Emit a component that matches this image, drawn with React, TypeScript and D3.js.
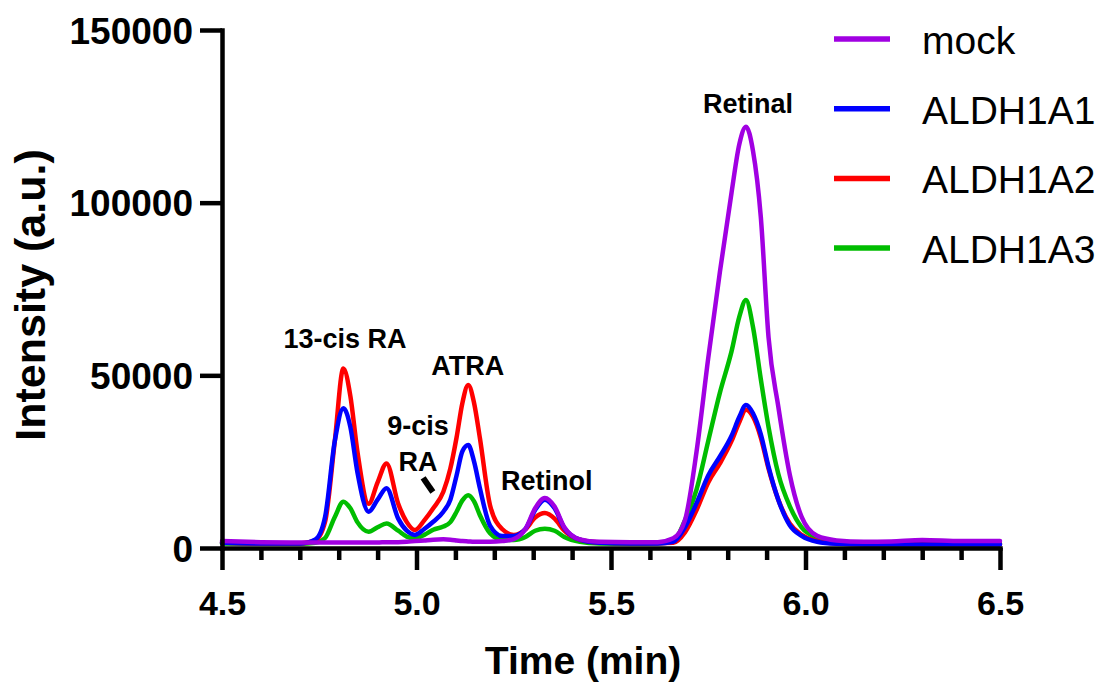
import { useEffect, useRef } from "react";
import * as d3 from "d3";

// retention time (min)
const time = [
  4.5, 4.6, 4.7, 4.74, 4.765, 4.79, 4.812, 4.83, 4.848, 4.877, 4.9, 4.923, 4.953, 4.975, 4.996,
  5.02, 5.043, 5.069, 5.087, 5.103, 5.118, 5.133, 5.148, 5.163, 5.189, 5.22, 5.25, 5.28, 5.305,
  5.33, 5.355, 5.38, 5.42, 5.47, 5.55, 5.62, 5.66, 5.69, 5.72, 5.75, 5.78, 5.81, 5.83, 5.847,
  5.865, 5.885, 5.905, 5.93, 5.96, 5.99, 6.03, 6.08, 6.15, 6.22, 6.3, 6.4, 6.5,
];

const mock = [
  2000, 1700, 1600, 1600, 1600, 1600, 1600, 1600, 1600, 1600, 1600, 1700, 1700, 1800, 2000,
  2200, 2400, 2500, 2400, 2200, 2000, 1900, 1800, 1800, 1800, 2000, 2600, 5500, 11500,
  14500, 12000, 6000, 2500, 1800, 1700, 1700, 2800, 8000, 28000, 55000, 80000, 103000, 117000, 122000,
  115000, 96000, 61000, 41000, 21000, 9000, 3500, 2200, 1800, 1900, 2300, 2000, 2000,
];

const aldh1a1 = [
  1500, 1300, 1300, 2500, 9000, 31000, 40500, 35000, 22000, 10500, 14000, 17300, 8500, 5000, 3800,
  5500, 7600, 10500, 14000, 21000, 28000, 29800, 25000, 17300, 6500, 3500, 3500, 5500, 11000,
  14000, 11500, 5800, 2400, 1500, 1300, 1300, 1800, 6000, 13000, 21000, 26500, 32500, 38000, 41400,
  39000, 33000, 23500, 14000, 6500, 3500, 1800, 1200, 1000, 1000, 1000, 1000, 1000,
];

const aldh1a2 = [
  1600, 1300, 1300, 2200, 7600, 31000, 52000, 44000, 28000, 12800, 19000, 24500, 12800, 7500, 5200,
  8000, 11500, 16300, 23000, 32000, 42000, 47200, 42000, 31800, 12400, 5500, 3800, 5400, 8800,
  10100, 8500, 5000, 2400, 1600, 1400, 1400, 1500, 4500, 11000, 19000, 24500, 31000, 36500, 40000,
  38000, 32000, 23000, 14000, 7000, 3800, 2000, 1300, 1100, 1100, 1100, 1100, 1100,
];

const aldh1a3 = [
  1300, 1200, 1200, 1500, 2900, 9000, 13400, 11500, 7500, 4700, 6000, 7100, 5000, 3300, 2800,
  3800, 5300, 6200, 7500, 10500, 13800, 15300, 13500, 9500, 4300, 2400, 2300, 3200, 5000,
  5600, 5000, 3200, 1800, 1300, 1200, 1300, 1900, 8000, 17000, 31000, 45000, 57000, 67000, 71800,
  64000, 49000, 35000, 21500, 12000, 6000, 3000, 1800, 1300, 1300, 1300, 1300, 1300,
];

const seriesNames = ["mock", "ALDH1A1", "ALDH1A2", "ALDH1A3"];
const seriesColors = ["#a100e2", "#0000ff", "#ff0000", "#00bd00"];
const seriesValues = [mock, aldh1a1, aldh1a2, aldh1a3];
const drawOrder = [3, 2, 1, 0];

const xMajorTicks = [4.5, 5.0, 5.5, 6.0, 6.5];
const xMinorTicks = [4.6, 4.7, 4.8, 4.9, 5.1, 5.2, 5.3, 5.4, 5.6, 5.7, 5.8, 5.9, 6.1, 6.2, 6.3, 6.4];
const yTicks = [0, 50000, 100000, 150000];

// peak annotations, anchored in data units
const peakLabels = [
  { text: "13-cis RA", t: 4.816, v: 57900 },
  { text: "ATRA", t: 5.132, v: 50100 },
  { text: "9-cis", t: 5.004, v: 32700 },
  { text: "RA", t: 5.004, v: 22300 },
  { text: "Retinol", t: 5.335, v: 16800 },
  { text: "Retinal", t: 5.852, v: 126000 },
];
const pointer = [
  [5.017, 20300],
  [5.042, 16200],
];

const FONT = "'Liberation Sans', Arial, Helvetica, sans-serif";

export default function App() {
  const xAxisRef = useRef<SVGGElement>(null);
  const xMinorRef = useRef<SVGGElement>(null);
  const yAxisRef = useRef<SVGGElement>(null);

  const width = 1111;
  const height = 686;
  const x = d3.scaleLinear().domain([4.5, 6.5]).range([222, 1000]);
  const y = d3.scaleLinear().domain([0, 150000]).range([548, 30]);

  const line = d3
    .line<number>()
    .x((_, i) => x(time[i]))
    .y((d) => y(d))
    .curve(d3.curveMonotoneX);

  useEffect(() => {
    if (xAxisRef.current) {
      const g = d3.select(xAxisRef.current);
      g.call(
        d3
          .axisBottom(x)
          .tickValues(xMajorTicks)
          .tickSize(22)
          .tickSizeOuter(0)
          .tickFormat(d3.format(".1f"))
      );
      g.selectAll("path, line").attr("stroke", "#000").attr("stroke-width", 4.5);
      g.select(".domain").attr("stroke-linecap", "square");
      g.selectAll("text")
        .attr("y", 67)
        .attr("dy", 0)
        .attr("fill", "#000")
        .style("font-family", FONT)
        .style("font-weight", "bold")
        .style("font-size", "34px");
    }
    if (xMinorRef.current) {
      const g = d3.select(xMinorRef.current);
      g.call(
        d3
          .axisBottom(x)
          .tickValues(xMinorTicks)
          .tickSize(12)
          .tickSizeOuter(0)
          .tickFormat(() => "")
      );
      g.select(".domain").remove();
      g.selectAll("line").attr("stroke", "#000").attr("stroke-width", 4.5);
    }
    if (yAxisRef.current) {
      const g = d3.select(yAxisRef.current);
      g.call(
        d3
          .axisLeft(y)
          .tickValues(yTicks)
          .tickSize(22)
          .tickSizeOuter(0)
          .tickPadding(7)
          .tickFormat(d3.format("d"))
      );
      g.selectAll("path, line").attr("stroke", "#000").attr("stroke-width", 4.5);
      g.select(".domain").attr("stroke-linecap", "square");
      g.selectAll("text")
        .attr("dy", "0.36em")
        .attr("fill", "#000")
        .style("font-family", FONT)
        .style("font-weight", "bold")
        .style("font-size", "37px");
    }
  }, []);

  return (
    <svg
      width={width}
      height={height}
      style={{ position: "absolute", left: 0, top: 0, background: "#fff" }}
    >
      {drawOrder.map((k) => (
        <path
          key={seriesNames[k]}
          d={line(seriesValues[k]) ?? ""}
          fill="none"
          stroke={seriesColors[k]}
          strokeWidth={4.5}
          strokeLinejoin="round"
          strokeLinecap="round"
        />
      ))}

      <g ref={xMinorRef} transform={`translate(0, ${y(0)})`} />
      <g ref={xAxisRef} transform={`translate(0, ${y(0)})`} />
      <g ref={yAxisRef} transform={`translate(${x(4.5)}, 0)`} />

      {peakLabels.map((p) => (
        <text
          key={p.text}
          x={x(p.t)}
          y={y(p.v)}
          textAnchor="middle"
          fontFamily={FONT}
          fontWeight="bold"
          fontSize={27}
          fill="#000"
        >
          {p.text}
        </text>
      ))}
      <line
        x1={x(pointer[0][0])}
        y1={y(pointer[0][1])}
        x2={x(pointer[1][0])}
        y2={y(pointer[1][1])}
        stroke="#000"
        strokeWidth={6}
      />

      <text
        x={583}
        y={674}
        textAnchor="middle"
        fontFamily={FONT}
        fontWeight="bold"
        fontSize={39}
        fill="#000"
      >
        Time (min)
      </text>
      <text
        transform="translate(45, 295) rotate(-90)"
        textAnchor="middle"
        fontFamily={FONT}
        fontWeight="bold"
        fontSize={43}
        fill="#000"
      >
        Intensity (a.u.)
      </text>

      {seriesNames.map((name, i) => (
        <g key={name} transform={`translate(834, ${39 + i * 69.7})`}>
          <line x1={0} x2={56} y1={0} y2={0} stroke={seriesColors[i]} strokeWidth={5.5} />
          <text x={88} y={15} fontFamily={FONT} fontSize={39} fill="#000">
            {name}
          </text>
        </g>
      ))}
    </svg>
  );
}
